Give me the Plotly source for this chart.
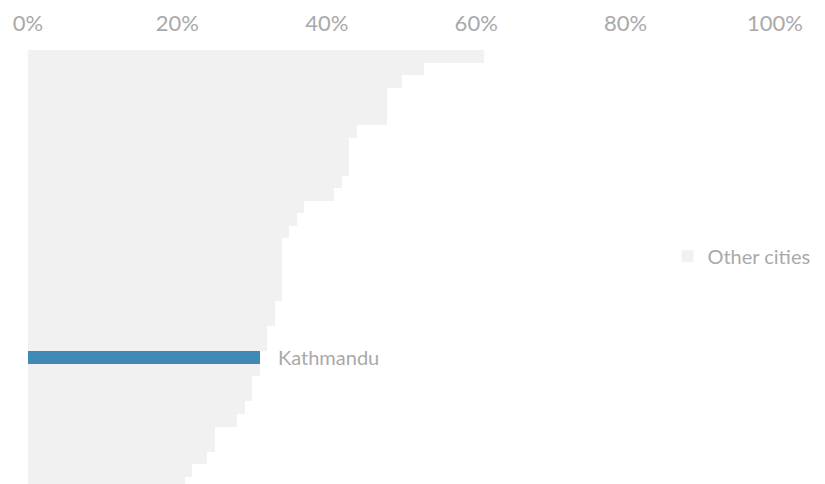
import plotly.graph_objects as go

# Share per city, ranked from highest to lowest (percent)
rank = list(range(1, 36))
share = [61, 53, 50, 48, 48, 48, 44, 43, 43, 43,
         42, 41, 37, 36, 35, 34, 34, 34, 34, 34,
         33, 33, 32, 32, 31, 31, 30, 30, 29, 28,
         25, 25, 24, 22, 21]
highlight_name = "Kathmandu"
highlight_rank = 25
tick_values = [0, 20, 40, 60, 80, 100]
tick_labels = ["0%", "20%", "40%", "60%", "80%", "100%"]

GRAY_BAR = "#f1f1f1"
BLUE_BAR = "#3f89b5"
TEXT_GRAY = "#a9a9a9"
FONT = "Lato, 'Open Sans', sans-serif"

other_y = [r - 1 for r in rank if r != highlight_rank]
other_x = [s for r, s in zip(rank, share) if r != highlight_rank]
hi_y = highlight_rank - 1
hi_x = share[highlight_rank - 1]

fig = go.Figure()
fig.add_trace(go.Bar(
    y=other_y, x=other_x, orientation="h", name="Other cities",
    marker=dict(color=GRAY_BAR, line=dict(width=0)),
    showlegend=True,
))
fig.add_trace(go.Bar(
    y=[hi_y], x=[hi_x], orientation="h", name=highlight_name,
    marker=dict(color=BLUE_BAR, line=dict(width=0)),
    showlegend=False,
))

fig.add_annotation(
    x=hi_x, y=hi_y, xref="x", yref="y", text=highlight_name,
    showarrow=False, xanchor="left", yanchor="middle", xshift=16,
    font=dict(family=FONT, size=20, color=TEXT_GRAY),
)

fig.update_layout(
    width=825, height=484,
    margin=dict(l=28, r=50, t=50, b=0),
    paper_bgcolor="white", plot_bgcolor="white",
    barmode="overlay", bargap=0,
    font=dict(family=FONT, size=20, color=TEXT_GRAY),
    xaxis=dict(
        side="top", range=[0, 100], tickvals=tick_values, ticktext=tick_labels,
        showgrid=False, zeroline=False, showline=False, ticks="",
        tickfont=dict(family=FONT, size=22, color=TEXT_GRAY),
        ticklabelstandoff=14,
        fixedrange=True,
    ),
    yaxis=dict(
        range=[34.08, -0.5], showticklabels=False, showgrid=False,
        zeroline=False, showline=False, ticks="", fixedrange=True,
    ),
    legend=dict(
        x=0.856, y=0.525, xanchor="left", yanchor="middle",
        font=dict(family=FONT, size=20, color=TEXT_GRAY),
        bgcolor="rgba(0,0,0,0)", itemwidth=30,
    ),
)

fig.write_html("out.html")
